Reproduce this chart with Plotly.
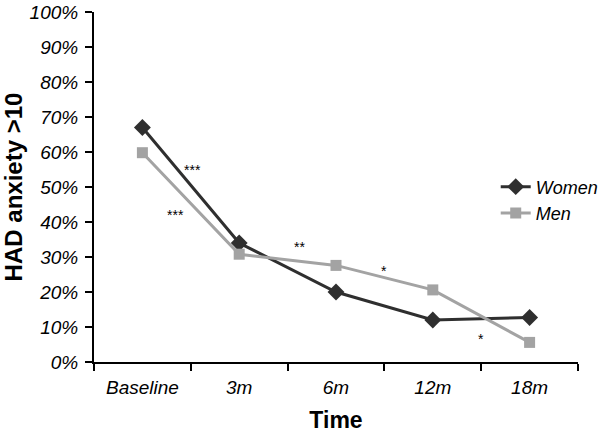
import plotly.graph_objects as go

categories = ["Baseline", "3m", "6m", "12m", "18m"]
women = [67, 34, 20, 12, 12.7]
men = [59.8, 30.8, 27.6, 20.6, 5.6]
y_ticks = [0, 10, 20, 30, 40, 50, 60, 70, 80, 90, 100]
y_tick_labels = [f"{v}%" for v in y_ticks]

# significance markers: (x position in category units, y value, text)
sig_x = [0.52, 0.34, 1.62, 2.5, 3.5]
sig_y = [55, 42, 33, 26, 6.5]
sig_text = ["***", "***", "**", "*", "*"]

fig = go.Figure()
fig.add_trace(go.Scatter(
    x=categories, y=women, name="Women", mode="lines+markers",
    line=dict(color="#2f2f2f", width=3),
    marker=dict(symbol="diamond", size=13, color="#2f2f2f"),
))
fig.add_trace(go.Scatter(
    x=categories, y=men, name="Men", mode="lines+markers",
    line=dict(color="#a3a3a3", width=3),
    marker=dict(symbol="square", size=11, color="#a3a3a3"),
))

for sx, sy, st in zip(sig_x, sig_y, sig_text):
    fig.add_annotation(x=sx, y=sy, xref="x", yref="y", text=st, showarrow=False,
                       font=dict(size=14, color="black", family="Liberation Sans"))

fig.update_layout(
    width=600, height=433,
    margin=dict(l=94, r=22, t=12, b=71, autoexpand=False),
    paper_bgcolor="white", plot_bgcolor="white",
    font=dict(family="Liberation Sans, Arial, sans-serif", color="black"),
    showlegend=True,
    legend=dict(x=0.83, y=0.553, xanchor="left", yanchor="top",
                font=dict(size=18, style="italic", color="black"),
                bgcolor="rgba(0,0,0,0)", tracegroupgap=0, itemwidth=30),
)
fig.update_xaxes(
    type="category", range=[-0.5, 4.5], automargin=False, tickangle=0,
    showline=True, linecolor="black", linewidth=2,
    ticks="outside", tickson="boundaries", ticklen=7, tickwidth=2, tickcolor="black",
    tickfont=dict(size=19, style="italic"), ticklabelstandoff=7,
    showgrid=False, zeroline=False,
    title=dict(text="<b>Time</b>", font=dict(size=23), standoff=15),
)
fig.update_yaxes(
    range=[0, 100], tickvals=y_ticks, ticktext=y_tick_labels, automargin=False,
    showline=True, linecolor="black", linewidth=2,
    ticks="outside", ticklen=7, tickwidth=2, tickcolor="black",
    tickfont=dict(size=19, style="italic"), ticklabelstandoff=3,
    showgrid=False, zeroline=False,
    title=dict(text="<b>HAD anxiety >10</b>", font=dict(size=24), standoff=3),
)

fig.write_html("out.html", config={"displayModeBar": False},
               post_script="document.body.style.margin='0';document.body.style.overflow='hidden';")
